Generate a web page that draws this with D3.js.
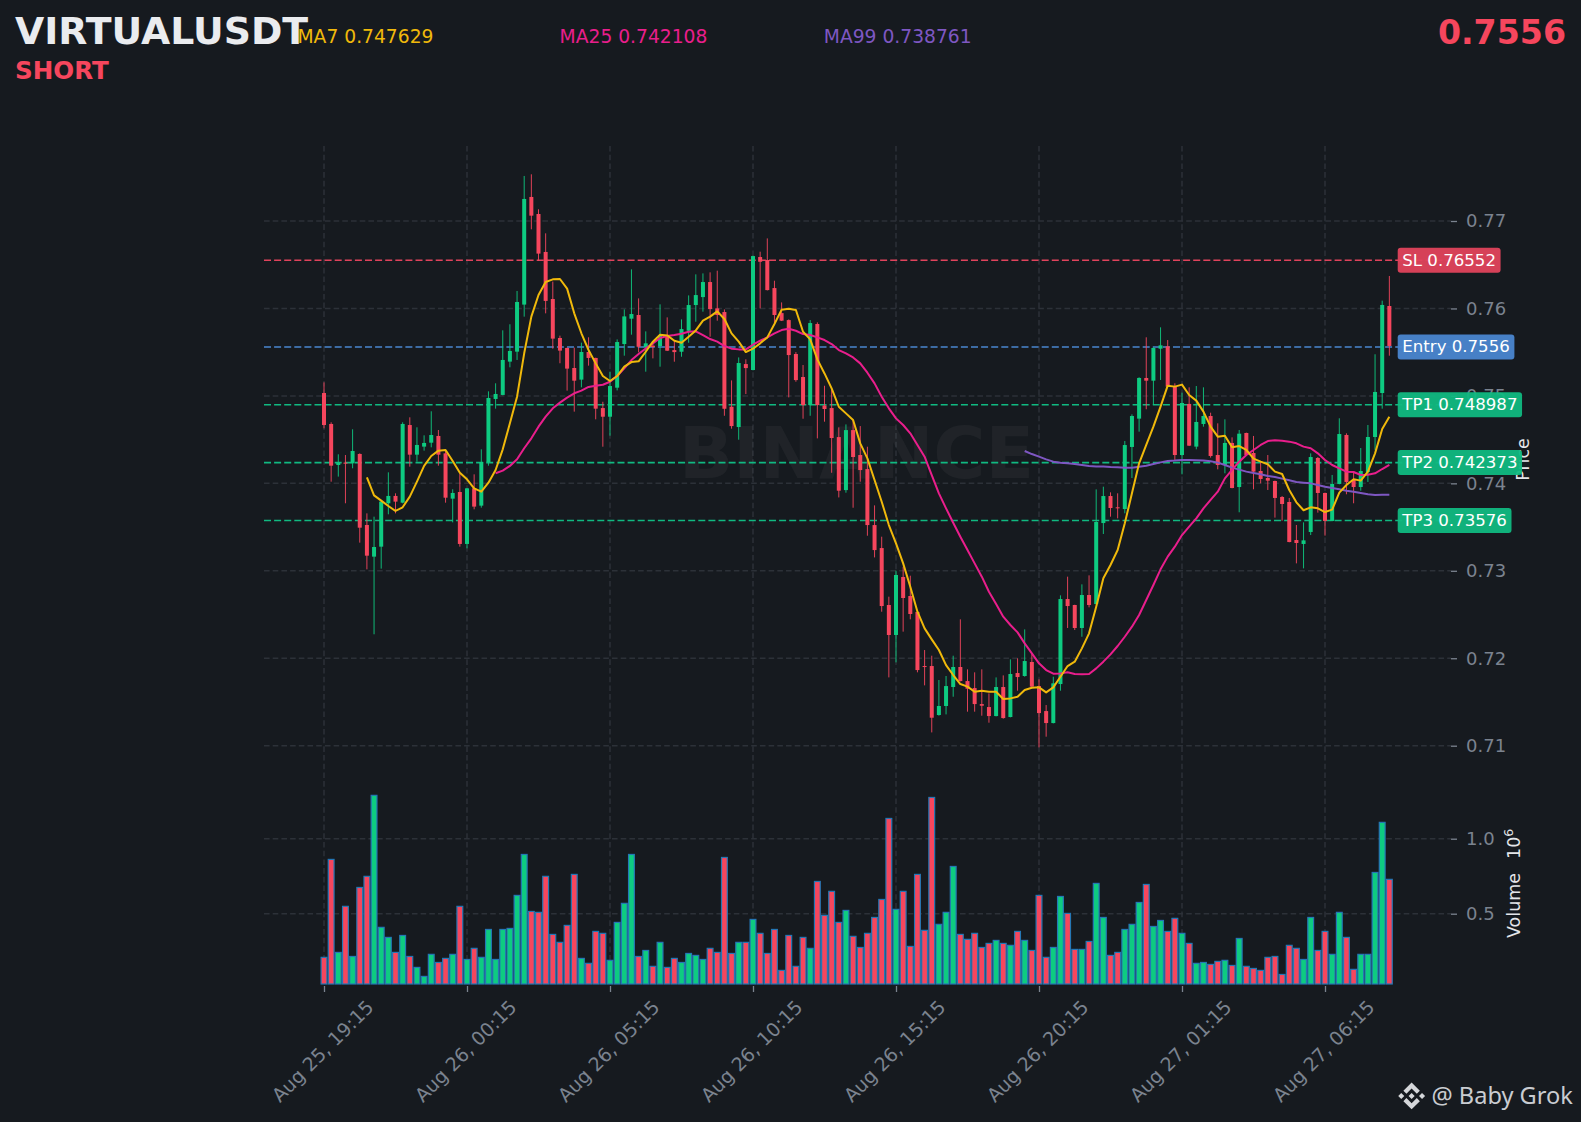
<!DOCTYPE html>
<html><head><meta charset="utf-8">
<script src="https://cdn.jsdelivr.net/npm/d3@7/dist/d3.min.js"></script>
<style>
html,body{margin:0;padding:0;background:#161a1f;}
svg{display:block;font-family:"DejaVu Sans",sans-serif;}
</style></head><body><div id="chart"></div>
<script>
const opens=[.75033,.74679,.74210,.74237,.74229,.74336,.73524,.73162,.73276,.73772,
.73856,.73779,.74667,.74328,.74420,.74465,.74542,.74343,.73825,.73901,
.73307,.73943,.73745,.74244,.74965,.75011,.75392,.75506,.76044,.77275,
.77080,.76646,.76108,.75662,.75548,.75319,.75186,.75502,.75434,.74861,
.74762,.75094,.75593,.75883,.75925,.75555,.75574,.75570,.75696,.75524,
.75505,.75745,.76039,.76130,.76302,.76001,.75959,.74876,.74644,.75364,
.75296,.76588,.76554,.76233,.75947,.75867,.75479,.75216,.74895,.75822,
.74891,.74861,.74529,.73923,.74609,.74324,.74163,.73523,.73260,.72609,
.72266,.72929,.72712,.72529,.71911,.71911,.71351,.71454,.71671,.71900,
.71739,.71659,.71476,.71442,.71339,.71671,.71328,.71831,.71797,.71957,
.71682,.71396,.71259,.71705,.72677,.72609,.72346,.72723,.72620,.73546,
.73855,.73726,.73706,.74416,.74740,.75205,.75174,.75540,.75567,.75106,
.74324,.74908,.74420,.74679,.74770,.74324,.74210,.74462,.73958,.74576,
.74347,.74141,.74061,.74027,.73844,.73787,.73352,.73307,.73444,.74290,
.73890,.73570,.73993,.74553,.74038,.73958,.74130,.74530,.75033,.76028];
const closes=[.74667,.74202,.74237,.74225,.74370,.73493,.73173,.73272,.73791,.73856,
.73791,.74679,.74328,.74439,.74462,.74553,.74328,.73836,.73890,.73307,
.73943,.73734,.74244,.74976,.75022,.75411,.75514,.76074,.77252,.77061,
.76627,.76086,.75655,.75518,.75312,.75174,.75502,.75434,.74854,.74762,
.75113,.75616,.75909,.75936,.75562,.75601,.75559,.75696,.75517,.75501,
.75764,.76039,.76153,.76302,.75993,.75925,.74853,.74655,.75376,.75318,
.76599,.76534,.76210,.75925,.75860,.75467,.75181,.74895,.75833,.74895,
.74850,.74518,.73916,.74609,.74301,.74152,.73523,.73237,.72597,.72266,
.72952,.72689,.72506,.71865,.71900,.71320,.71454,.71682,.71900,.71739,
.71652,.71476,.71457,.71339,.71671,.71316,.71820,.71785,.71968,.71675,
.71373,.71259,.71713,.72677,.72597,.72346,.72723,.72609,.73558,.73855,
.73718,.73718,.74438,.74770,.75205,.75174,.75548,.75578,.75106,.74324,
.74919,.74431,.74702,.74770,.74313,.74210,.74462,.73947,.74568,.74324,
.74134,.74050,.74031,.73833,.73764,.73329,.73318,.73348,.74301,.73890,
.73570,.73993,.74564,.74016,.73958,.74141,.74530,.75045,.76040,.75571];
const highs=[.75155,.74698,.74332,.74324,.74618,.74343,.73657,.73619,.73810,.74126,
.73886,.74698,.74755,.74641,.74549,.74824,.74610,.74382,.73932,.74115,
.73947,.74103,.74389,.75052,.75144,.75750,.75819,.76200,.77515,.77534,
.77134,.76859,.76307,.75689,.75552,.75552,.75609,.75670,.75437,.74933,
.75277,.75646,.75989,.76447,.76115,.75738,.75601,.76047,.75898,.75631,
.75875,.76149,.76390,.76401,.76413,.76432,.75989,.75177,.75440,.75418,
.76603,.76649,.76801,.76317,.76069,.75875,.75501,.75353,.75867,.75841,
.75116,.75067,.74640,.74674,.74724,.74655,.74419,.73748,.73390,.72704,
.73001,.73047,.72944,.72532,.72094,.72029,.71751,.71797,.72029,.72445,
.71873,.71839,.71873,.71598,.71781,.71804,.71987,.71999,.72330,.72056,
.71759,.71465,.71789,.72719,.72933,.72612,.72845,.72948,.73931,.73962,
.73897,.73886,.74484,.74789,.75213,.75670,.75556,.75784,.75639,.75144,
.75037,.75098,.75113,.75098,.74808,.74686,.74732,.74526,.74610,.74580,
.74542,.74248,.74324,.74031,.73855,.73833,.73524,.73554,.74343,.74301,
.73894,.74096,.74744,.74572,.74134,.74404,.74667,.75476,.76089,.76371];
const lows=[.74629,.74019,.74077,.73772,.74172,.73322,.73017,.72274,.73025,.73646,
.73657,.73772,.74191,.74248,.74374,.74412,.74202,.73779,.73554,.73276,
.73257,.73703,.73722,.74202,.74854,.75007,.75327,.75411,.75906,.76905,
.76543,.75944,.75540,.75373,.75060,.74820,.75098,.75346,.74732,.74419,
.74545,.75063,.75460,.75700,.75498,.75277,.75429,.75334,.75513,.75391,
.75448,.75608,.75848,.75963,.75677,.75860,.74773,.74625,.74499,.75021,
.75292,.76001,.76206,.75829,.75856,.74983,.75162,.74739,.74773,.74514,
.74705,.74121,.73839,.73893,.73721,.74019,.73401,.73153,.72532,.71781,
.71953,.72304,.72445,.71839,.71690,.71152,.71343,.71358,.71560,.71735,
.71389,.71389,.71343,.71263,.71335,.71309,.71324,.71629,.71789,.71671,
.70981,.71103,.71255,.71629,.72346,.72323,.72246,.72582,.72616,.73421,
.73619,.73600,.73657,.74061,.74591,.74847,.74896,.75182,.75102,.74260,
.74103,.74427,.74389,.74648,.74294,.74160,.74115,.73943,.73669,.74320,
.73932,.74000,.73924,.73608,.73573,.73326,.73085,.73028,.73409,.73665,
.73402,.73566,.73989,.73875,.73772,.73916,.74016,.74382,.74854,.75460];
const volumes=[.209,.862,.242,.549,.215,.675,.749,1.289,.409,.342,
.242,.355,.215,.142,.082,.229,.175,.202,.229,.549,
.195,.269,.209,.395,.195,.395,.402,.622,.895,.515,
.509,.749,.362,.309,.422,.762,.202,.169,.382,.369,
.189,.442,.569,.895,.215,.255,.149,.309,.142,.202,
.175,.235,.222,.195,.269,.242,.875,.235,.309,.309,
.462,.369,.235,.395,.122,.355,.149,.342,.269,.715,
.489,.649,.442,.522,.349,.275,.369,.475,.595,1.135,
.529,.649,.282,.762,.389,1.275,.429,.509,.815,.362,
.329,.369,.275,.302,.322,.302,.289,.382,.322,.255,
.622,.209,.275,.615,.502,.262,.262,.315,.702,.475,
.222,.242,.395,.429,.575,.695,.415,.455,.382,.469,
.369,.302,.169,.175,.162,.182,.189,.155,.335,.149,
.135,.122,.209,.215,.095,.289,.269,.195,.475,.255,
.382,.229,.509,.342,.129,.229,.229,.775,1.109,.729];
const ma7Start=6;
const ma7=[.74069,.73863,.73802,.73741,.73684,.73726,.73848,.74019,.74199,.74313,.74374,.74382,.74256,.74122,.74046,.73943,.73905,.74008,.74153,.74389,.74687,.74991,.75487,.75906,.76154,.76303,.76333,.76337,.76227,.75944,.75716,.75525,
.75372,.75227,.75170,.75227,.75334,.75387,.75395,.75505,.75620,.75700,.75692,.75631,.75608,.75677,.75749,.75860,.75906,.75967,.75879,.75715,.75620,.75501,.75540,.75601,.75669,.75822,.75986,.75997,.75982,.75734,.75646,.75418,.75257,.75086,.74876,.74800,.74724,.74457,.74285,.74038,.73790,
.73523,.73314,.73085,.72818,.72532,.72342,.72216,.72094,.71922,.71808,.71705,.71675,.71617,.71629,.71617,.71617,.71534,.71541,.71560,.71637,.71663,.71667,.71610,.71667,.71789,.71911,.71961,.72113,.72285,.72590,.72914,.73066,.73238,.73543,.73886,.74229,
.74439,.74648,.74877,.75117,.75106,.75129,.75010,.74946,.74820,.74648,.74534,.74545,.74412,.74427,.74382,.74282,.74248,.74218,.74134,.74107,.73924,.73783,.73692,.73726,.73714,.73672,.73699,.73894,.73981,.74046,.74031,.74134,.74343,.74622,.74762];
const ma25Start=24;
const ma25=[.74115,.74145,.74199,.74275,.74401,.74515,.74648,.74763,.74858,.74923,.74980,.75030,.75060,.75102,
.75116,.75128,.75162,.75227,.75315,.75410,.75479,.75543,.75601,.75662,.75684,.75696,.75711,.75734,.75738,.75696,.75650,.75620,.75570,.75540,.75532,.75532,.75585,.75631,.75669,.75715,.75753,.75768,.75745,.75707,.75696,.75669,.75639,.75593,.75524,.75486,.75440,.75372,.75265,.75143,.74991,
.74858,.74743,.74667,.74572,.74438,.74305,.74095,.73886,.73714,.73550,.73390,.73238,.73085,.72933,.72761,.72620,.72475,.72380,.72296,.72170,.72056,.71942,.71865,.71823,.71827,.71839,.71820,.71816,.71820,.71884,.71961,.72044,.72140,.72246,.72361,.72494,.72666,
.72838,.73017,.73162,.73276,.73409,.73505,.73600,.73714,.73810,.73905,.74057,.74153,.74248,.74324,.74382,.74439,.74484,.74492,.74488,.74477,.74458,.74420,.74401,.74343,.74267,.74210,.74172,.74134,.74130,.74096,.74099,.74115,.74164,.74210];
const ma99Start=98;
const ma99=[.74370,.74335,.74305,.74274,.74248,.74236,.74229,.74221,.74210,.74198,.74194,.74194,.74187,.74183,.74179,.74179,.74191,
.74202,.74221,.74240,.74256,.74260,.74267,.74267,.74263,.74260,.74252,.74237,.74210,.74180,.74157,.74134,.74119,.74103,.74084,.74073,.74054,.74035,.74016,.74008,.74000,.73981,.73962,.73947,.73932,.73916,.73905,.73890,.73875,.73867,.73871,.73871];
const priceTicks=[0.71,0.72,0.73,0.74,0.75,0.76,0.77];
const volumeTicks=[0.5,1.0];
const timeTickIndex=[0,20,40,60,80,100,120,140];
const timeLabels=["Aug 25, 19:15","Aug 26, 00:15","Aug 26, 05:15","Aug 26, 10:15","Aug 26, 15:15","Aug 26, 20:15","Aug 27, 01:15","Aug 27, 06:15"];
const levelValues=[0.76552,0.7556,0.748987,0.742373,0.73576];
const levelLabels=["SL 0.76552","Entry 0.7556","TP1 0.748987","TP2 0.742373","TP3 0.73576"];
const maNames=["MA7 0.747629","MA25 0.742108","MA99 0.738761"];

const W=1581,H=1122;
const BG="#161a1f",UP="#0ecb81",DOWN="#f6465d",C7="#f0b90b",C25="#e91e8c",C99="#7e57c2",GRID="#2c3138",TICK="#7b838f";
const pLeft=264,pRight=1451,pTop=146,pBottom=984;
const svg=d3.select("#chart").append("svg").attr("width",W).attr("height",H).style("background",BG);
const x=d3.scaleLinear().domain([0,140]).range([324,1325]);
const y=d3.scaleLinear().domain([0.71,0.77]).range([745.7,221]);
const vy=d3.scaleLinear().domain([0,1]).range([988.7,838.7]);
const idx=d3.range(opens.length);

// grid
const g=svg.append("g");
g.selectAll("line.v").data(timeTickIndex).join("line").attr("class","v").attr("x1",d=>x(d)).attr("x2",d=>x(d)).attr("y1",pTop).attr("y2",pBottom)
 .attr("stroke",GRID).attr("stroke-width",1.5).attr("stroke-dasharray","5.6 3.1");
g.selectAll("line.h").data(priceTicks).join("line").attr("class","h").attr("x1",pLeft).attr("x2",pRight).attr("y1",d=>y(d)).attr("y2",d=>y(d))
 .attr("stroke",GRID).attr("stroke-width",1.5).attr("stroke-dasharray","5.6 3.1");
g.selectAll("line.vh").data(volumeTicks).join("line").attr("class","vh").attr("x1",pLeft).attr("x2",pRight).attr("y1",d=>vy(d)).attr("y2",d=>vy(d))
 .attr("stroke",GRID).attr("stroke-width",1.5).attr("stroke-dasharray","5.6 3.1");

// watermark
svg.append("text").attr("x",856.5).attr("y",478).attr("text-anchor","middle").attr("font-size",71).attr("font-weight","bold")
 .attr("fill","#ffffff").attr("fill-opacity",0.045).text("BINANCE");

// axes
function styleAxis(sel){sel.select(".domain").remove();sel.selectAll(".tick line").attr("stroke",TICK).attr("stroke-width",1.3);
 sel.selectAll(".tick text").attr("fill",TICK).attr("font-size",18).attr("font-family","DejaVu Sans");}
const pa=svg.append("g").attr("transform",`translate(${pRight},0)`).call(d3.axisRight(y).tickValues(priceTicks).tickSize(6).tickPadding(9).tickFormat(d3.format(".2f")));
styleAxis(pa);
const va=svg.append("g").attr("transform",`translate(${pRight},0)`).call(d3.axisRight(vy).tickValues(volumeTicks).tickSize(6).tickPadding(9).tickFormat(d3.format(".1f")));
styleAxis(va);
const ta=svg.append("g").attr("transform",`translate(0,${pBottom+2})`).call(d3.axisBottom(x).tickValues(timeTickIndex).tickSize(6).tickFormat((d,i)=>timeLabels[i]));
styleAxis(ta);
ta.selectAll(".tick text").attr("text-anchor","middle").attr("dy",0).attr("y",0).attr("font-size",19).attr("transform","translate(-1,66) rotate(-45)").attr("dominant-baseline","middle");

// axis titles
svg.append("text").attr("transform","translate(1529,459.5) rotate(-90)").attr("text-anchor","middle").attr("font-size",17.5).attr("fill","#e4e6ea").text("Price");
const vt=svg.append("text").attr("transform","translate(1520,938) rotate(-90)").attr("font-size",17.5).attr("fill","#e4e6ea");
vt.append("tspan").text("Volume");
vt.append("tspan").attr("dx",14).text("10");
vt.append("tspan").attr("dy",-7).attr("font-size",12.5).text("6");

// level lines
const levelColors=["#e0435c","#4a86d0","#10b981","#10b981","#10b981"];
svg.append("g").selectAll("line").data(levelValues).join("line").attr("x1",pLeft).attr("x2",pRight)
 .attr("y1",d=>y(d)).attr("y2",d=>y(d)).attr("stroke",(d,i)=>levelColors[i]).attr("stroke-width",1.6).attr("stroke-dasharray","7 3.1");

// volume bars
svg.append("g").selectAll("rect").data(idx).join("rect")
 .attr("x",i=>x(i)-2.9).attr("width",5.8).attr("y",i=>vy(volumes[i])).attr("height",i=>pBottom-vy(volumes[i]))
 .attr("fill",i=>closes[i]>=opens[i]?UP:DOWN).attr("stroke","#2577b5").attr("stroke-width",1.2);

// candles
const cg=svg.append("g");
cg.selectAll("line").data(idx).join("line").attr("x1",i=>x(i)).attr("x2",i=>x(i)).attr("y1",i=>y(highs[i])).attr("y2",i=>y(lows[i]))
 .attr("stroke",i=>closes[i]>=opens[i]?UP:DOWN).attr("stroke-width",0.9);
cg.selectAll("rect").data(idx).join("rect").attr("x",i=>x(i)-2).attr("width",4)
 .attr("y",i=>y(Math.max(opens[i],closes[i]))).attr("height",i=>Math.max(1,Math.abs(y(opens[i])-y(closes[i]))))
 .attr("fill",i=>closes[i]>=opens[i]?UP:DOWN);

// moving averages
function drawMA(vals,start,color){
 const ln=d3.line().x((d,i)=>x(i+start)).y(d=>y(d));
 svg.append("path").datum(vals).attr("d",ln).attr("fill","none").attr("stroke",color).attr("stroke-width",2).attr("stroke-linejoin","round");
}
drawMA(ma99,ma99Start,C99);drawMA(ma25,ma25Start,C25);drawMA(ma7,ma7Start,C7);

// level labels
levelLabels.forEach((t,i)=>{
 const gg=svg.append("g");
 const r=gg.append("rect").attr("fill",levelColors[i]).attr("fill-opacity",0.95).attr("rx",3);
 const tx=gg.append("text").attr("x",1402.3).attr("y",y(levelValues[i])+5.4).attr("font-size",16.6).attr("fill","#ffffff").text(t);
 const w=tx.node().getComputedTextLength();
 r.attr("x",1397.7).attr("y",y(levelValues[i])-12.5).attr("width",w+9.2).attr("height",25);
});

// header
svg.append("text").attr("x",15).attr("y",43.5).attr("font-size",37.8).attr("font-weight","bold").attr("fill","#eaecef").text("VIRTUALUSDT");
svg.append("text").attr("x",15).attr("y",79).attr("font-size",24.6).attr("font-weight","bold").attr("fill",DOWN).text("SHORT");
svg.append("text").attr("x",1566).attr("y",44).attr("text-anchor","end").attr("font-size",33.2).attr("font-weight","bold").attr("fill",DOWN).text("0.7556");
const maX=[297.5,559.6,823.8],maC=[C7,C25,C99];
maNames.forEach((t,i)=>svg.append("text").attr("x",maX[i]).attr("y",43).attr("font-size",18.7).attr("fill",maC[i]).text(t));

// credit
svg.append("path").attr("transform","translate(1398.2,1082.5) scale(1.12)").attr("fill","#d5d7da")
 .attr("d","M16.624 13.9202l2.7175 2.7154-7.353 7.353-7.353-7.352 2.7175-2.7164 4.6355 4.6595 4.6356-4.6595zm4.6366-4.6366L24 12l-2.7154 2.7164L18.5682 12l2.6924-2.7164zm-9.272.001l2.7163 2.6914-2.7164 2.7174v-.001L9.2721 12l2.7164-2.7154zm-9.2722-.001L5.4088 12l-2.6914 2.6934L0 12l2.7164-2.7164zM11.9885.0115l7.353 7.329-2.7174 2.7154-4.6356-4.6356-4.6355 4.6595-2.7174-2.7154 7.353-7.353z");
svg.append("text").attr("x",1431.5).attr("y",1104).attr("font-size",23.6).attr("font-family","Noto Sans").attr("fill","#c9ccd1").text("@ Baby Grok");
</script></body></html>
